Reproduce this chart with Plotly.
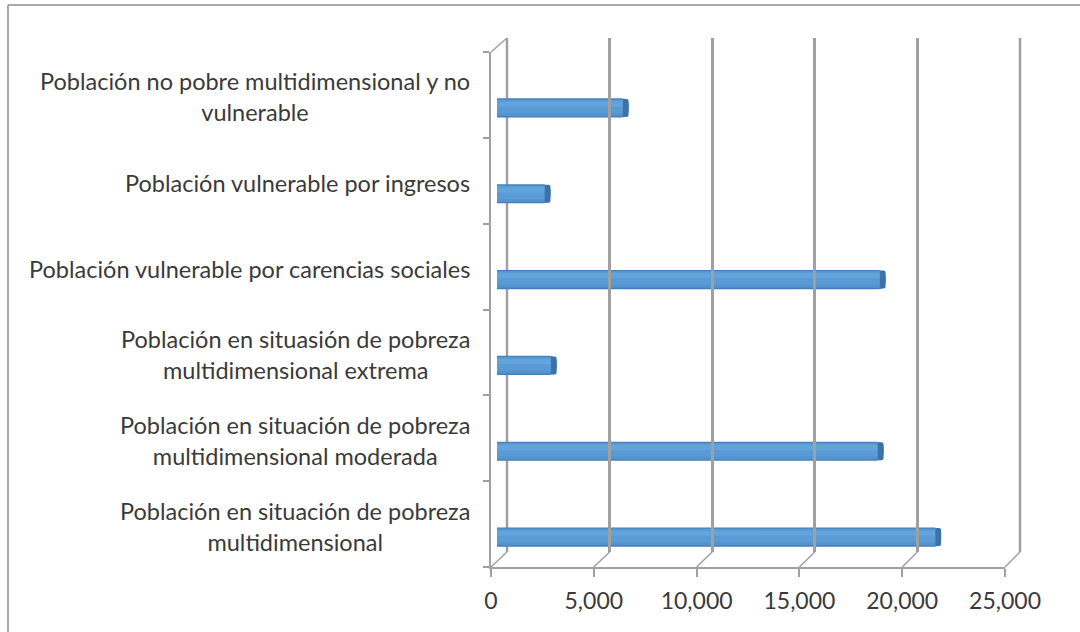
import plotly.graph_objects as go

# ---- data ----
categories = [
    "Población no pobre multidimensional y no\nvulnerable",
    "Población vulnerable por ingresos",
    "Población vulnerable por carencias sociales",
    "Población en situasión de pobreza\nmultidimensional extrema",
    "Población en situación de pobreza\nmultidimensional moderada",
    "Población en situación de pobreza\nmultidimensional",
]
values = [6400, 2600, 18900, 2900, 18800, 21600]
x_ticks = [0, 5000, 10000, 15000, 20000, 25000]
x_max = 25000

W, H = 1080, 632
FONT = "Lato"
TXT = "#3A3A3A"
GRID = "#A0A0A0"
FS = 23.5

def px_x(p):
    return p / W

def px_y(p):
    return 1 - p / H

# pixel geometry of the pseudo-3D frame
front_x0, front_x1 = 491, 1005
front_top, front_bot = 52, 567
back_x0, back_x1 = 507, 1020
back_top, back_bot = 38, 552
bar_x0, bar_x1 = 497, 1011
bar_top, bar_bot = 65, 580

fig = go.Figure()

n = len(categories)
idx = list(range(n))

# cylinder-like bars: layered bars (subtle shading)
layers = [
    dict(color="#467FB8", offset=-0.112, width=0.224),
    dict(color="#5393CF", offset=-0.100, width=0.195),
    dict(color="#5B9BD5", offset=-0.090, width=0.150),
    dict(color="#64A4DC", offset=-0.075, width=0.060),
]
for L in layers:
    fig.add_trace(go.Bar(
        x=values, y=idx, orientation="h",
        width=[L["width"]] * n, offset=[L["offset"]] * n,
        marker=dict(color=L["color"], line=dict(width=0), cornerradius=7),
        hoverinfo="x", showlegend=False, xaxis="x", yaxis="y",
    ))
# darker end cap of each cylinder
cap = 280
fig.add_trace(go.Bar(
    x=[cap] * n, base=[v - cap for v in values], y=idx, orientation="h",
    width=[0.21] * n, offset=[-0.105] * n,
    marker=dict(color="#3D72A6", line=dict(width=0), cornerradius=3),
    hoverinfo="skip", showlegend=False, xaxis="x", yaxis="y",
))

# dummy traces so the helper axes are drawn
fig.add_trace(go.Scatter(x=[0], y=[0], xaxis="x2", yaxis="y2", mode="markers",
                         marker=dict(opacity=0), hoverinfo="skip", showlegend=False))
fig.add_trace(go.Scatter(x=[0], y=[0], xaxis="x3", yaxis="y3", mode="markers",
                         marker=dict(opacity=0), hoverinfo="skip", showlegend=False))

fig.update_layout(
    width=W, height=H, autosize=False,
    margin=dict(l=0, r=0, t=0, b=0, pad=0, autoexpand=False),
    paper_bgcolor="white", plot_bgcolor="rgba(0,0,0,0)",
    barmode="overlay",
    font=dict(family=FONT, size=FS, color=TXT),
    # bars
    xaxis=dict(domain=[px_x(bar_x0), px_x(bar_x1)], range=[0, x_max],
               visible=False, anchor="y", automargin=False),
    yaxis=dict(domain=[px_y(bar_bot), px_y(bar_top)], range=[n - 0.5, -0.5],
               visible=False, anchor="x", automargin=False),
    # front axes
    xaxis2=dict(domain=[px_x(front_x0), px_x(front_x1)], range=[0, x_max],
                tickvals=x_ticks, tickformat=",", ticks="outside", ticklen=8,
                tickcolor=GRID, tickwidth=1.5, showline=True, linecolor=GRID,
                linewidth=1.5, showgrid=False, zeroline=False, anchor="y2",
                tickfont=dict(size=23, color=TXT), ticklabelstandoff=5,
                automargin=False),
    yaxis2=dict(domain=[px_y(front_bot), px_y(front_top)], range=[n, 0],
                tickvals=list(range(n + 1)), ticks="outside", ticklen=6,
                tickcolor=GRID, tickwidth=1.5, showticklabels=False,
                showline=True, linecolor=GRID, linewidth=2, showgrid=False,
                zeroline=False, anchor="x2", automargin=False),
    # back wall gridlines
    xaxis3=dict(domain=[px_x(back_x0), px_x(back_x1)], range=[0, x_max],
                tickvals=x_ticks, showticklabels=False, showgrid=True,
                gridcolor=GRID, gridwidth=2.5, zeroline=False, showline=False,
                anchor="y3", automargin=False),
    yaxis3=dict(domain=[px_y(back_bot), px_y(back_top)], range=[0, 1],
                visible=False, anchor="x3", automargin=False),
)

def fx(v):
    return front_x0 + v / x_max * (front_x1 - front_x0)

def bx(v):
    return back_x0 + v / x_max * (back_x1 - back_x0)

shapes = []
# floor diagonals from front ticks to back gridlines
for v in x_ticks:
    shapes.append(dict(type="line", xref="paper", yref="paper", layer="below",
                       x0=px_x(fx(v)), y0=px_y(front_bot),
                       x1=px_x(bx(v)), y1=px_y(back_bot),
                       line=dict(color=GRID, width=1.5)))
# explicit back-wall edges at 0 and max
for v in (0, x_max):
    shapes.append(dict(type="line", xref="paper", yref="paper", layer="below",
                       x0=px_x(bx(v)), y0=px_y(back_bot),
                       x1=px_x(bx(v)), y1=px_y(back_top),
                       line=dict(color=GRID, width=2.5)))
# top-left diagonal
shapes.append(dict(type="line", xref="paper", yref="paper", layer="below",
                   x0=px_x(front_x0), y0=px_y(front_top),
                   x1=px_x(back_x0), y1=px_y(back_top),
                   line=dict(color=GRID, width=1.5)))
# outer chart border (only top and left edges are visible in the frame)
shapes.append(dict(type="line", xref="paper", yref="paper",
                   x0=px_x(8), y0=px_y(5), x1=1, y1=px_y(5),
                   line=dict(color="#8C8C8C", width=1.5)))
shapes.append(dict(type="line", xref="paper", yref="paper",
                   x0=px_x(8), y0=px_y(5), x1=px_x(8), y1=0,
                   line=dict(color="#8C8C8C", width=1.5)))
fig.update_layout(shapes=shapes)

# category labels: centered multi-line block, right edge near the axis
annotations = []
for i, cat in enumerate(categories):
    text = "<br>".join(cat.split("\n"))
    annotations.append(dict(
        x=px_x(472), xref="paper", xanchor="right",
        y=i + 0.5, yref="y2", yanchor="middle", yshift=-2,
        text=text, align="center", showarrow=False,
        font=dict(size=FS, color=TXT),
    ))
fig.update_layout(annotations=annotations)

fig.write_html("out.html",
               config={"responsive": False, "displayModeBar": False},
               post_script="document.body.style.margin='0';document.body.style.overflow='hidden';")
